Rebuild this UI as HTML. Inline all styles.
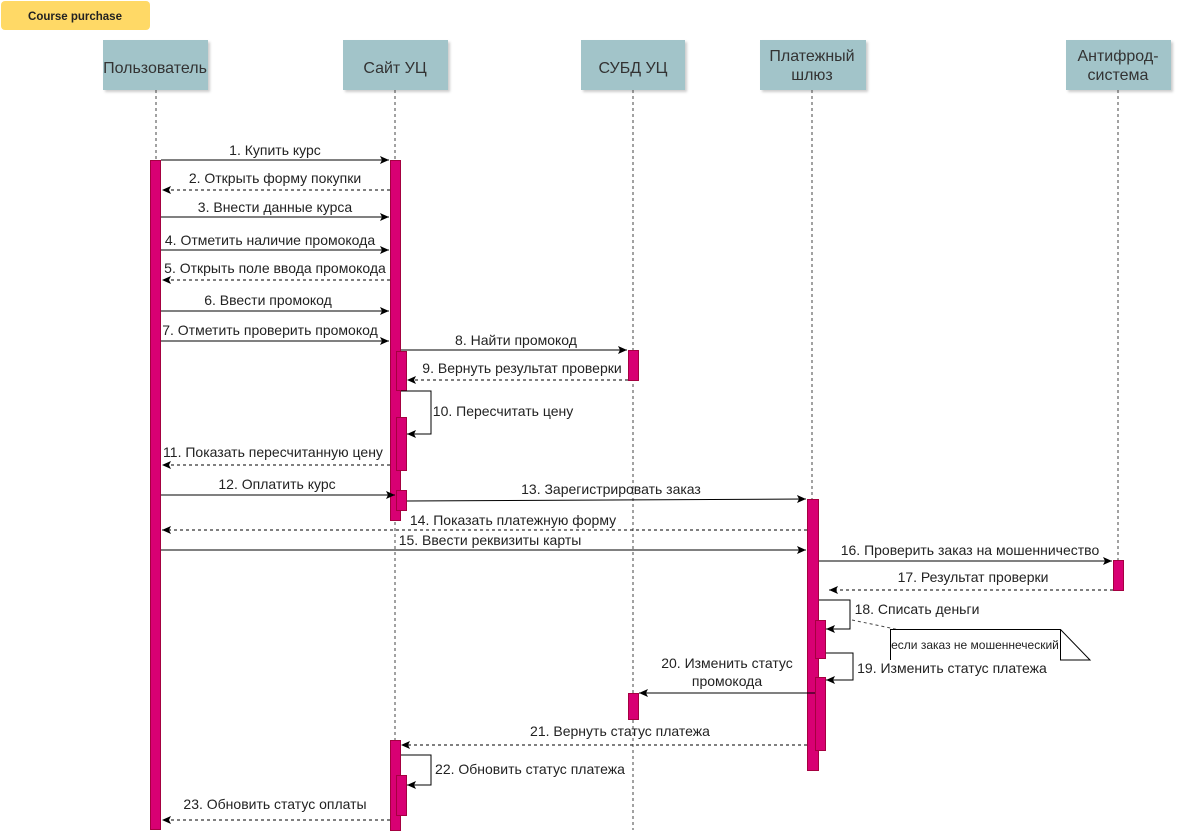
<!DOCTYPE html>
<html><head><meta charset="utf-8"><style>
html,body{margin:0;padding:0;background:#fff;}
svg{display:block;font-family:"Liberation Sans",Arial,sans-serif;}
.l{font-size:14px;fill:#222;}
.h{font-size:16px;fill:#333;}
</style></head><body>
<svg width="1177" height="831" viewBox="0 0 1177 831" xmlns="http://www.w3.org/2000/svg">
<defs>
<marker id="a" markerWidth="10" markerHeight="10" refX="9" refY="5" orient="auto" markerUnits="userSpaceOnUse">
<path d="M0,1 L9,5 L0,9 L2,5 Z" fill="#000"/></marker>
<filter id="s" x="-10%" y="-10%" width="130%" height="130%"><feDropShadow dx="2" dy="2" stdDeviation="1.2" flood-color="#000" flood-opacity="0.2"/></filter>
</defs>
<rect x="1" y="1" width="149" height="29" rx="4" fill="#FFD966"/>
<text x="75" y="20" text-anchor="middle" font-size="11.5" font-weight="bold" fill="#222">Course purchase</text>
<g fill="#A2C4C9" filter="url(#s)">
<rect x="103" y="40" width="105" height="50"/><rect x="343" y="40" width="105" height="50"/>
<rect x="581" y="40" width="104" height="50"/><rect x="760" y="40" width="106" height="50"/>
<rect x="1066" y="40" width="105" height="50"/></g>
<text class="h" x="155" y="73" text-anchor="middle">Пользователь</text>
<text class="h" x="395" y="73" text-anchor="middle">Сайт УЦ</text>
<text class="h" x="633" y="73" text-anchor="middle">СУБД УЦ</text>
<text class="h" x="812" y="61" text-anchor="middle">Платежный</text>
<text class="h" x="812" y="80" text-anchor="middle">шлюз</text>
<text class="h" x="1118" y="61" text-anchor="middle">Антифрод-</text>
<text class="h" x="1118" y="80" text-anchor="middle">система</text>
<g stroke="#444" stroke-dasharray="3,3" stroke-width="1">
<line x1="156" y1="90" x2="156" y2="160"/><line x1="395" y1="90" x2="395" y2="830"/>
<line x1="633" y1="90" x2="633" y2="830"/><line x1="812" y1="90" x2="812" y2="770"/>
<line x1="1118" y1="90" x2="1118" y2="590"/></g>
<g fill="#D80073" stroke="#A50040" stroke-width="1">
<rect x="150.5" y="160.5" width="10" height="669"/>
<rect x="390.5" y="160.5" width="10" height="360"/>
<rect x="396.5" y="351.5" width="10" height="39"/>
<rect x="396.5" y="417.5" width="10" height="53"/>
<rect x="396.5" y="490.5" width="10" height="20"/>
<rect x="390.5" y="740.5" width="10" height="90"/>
<rect x="396.5" y="775.5" width="10" height="40"/>
<rect x="628.5" y="350.5" width="10" height="30"/>
<rect x="628.5" y="693.5" width="10" height="26"/>
<rect x="807.5" y="499.5" width="11" height="271"/>
<rect x="815.5" y="620.5" width="10" height="38"/>
<rect x="815.5" y="677.5" width="10" height="73"/>
<rect x="1113.5" y="560.5" width="10" height="30"/>
</g>
<g stroke="#000" stroke-width="1" fill="none" marker-end="url(#a)">
<line x1="161" y1="160" x2="389" y2="160"/>
<line x1="390" y1="190" x2="162" y2="190" stroke-dasharray="3,3"/>
<line x1="161" y1="217" x2="389" y2="217"/>
<line x1="161" y1="250" x2="389" y2="250"/>
<line x1="390" y1="280" x2="162" y2="280" stroke-dasharray="3,3"/>
<line x1="161" y1="311" x2="389" y2="311"/>
<line x1="161" y1="341" x2="389" y2="341"/>
<line x1="401" y1="350" x2="627" y2="350"/>
<line x1="628" y1="380" x2="407" y2="380" stroke-dasharray="3,3"/>
<polyline points="401,391 431,391 431,434 407,434"/>
<line x1="390" y1="465" x2="162" y2="465" stroke-dasharray="3,3"/>
<line x1="161" y1="495" x2="395" y2="495"/>
<line x1="407" y1="501" x2="806" y2="499"/>
<line x1="807" y1="530" x2="162" y2="530" stroke-dasharray="3,3"/>
<line x1="161" y1="550" x2="806" y2="550"/>
<line x1="819" y1="561" x2="1112" y2="561"/>
<line x1="1113" y1="590" x2="829" y2="590" stroke-dasharray="3,3"/>
<polyline points="819,600 850,600 850,629 826,629"/>
<polyline points="826,653 853,653 853,680 826,680"/>
<line x1="815" y1="693" x2="639" y2="693"/>
<line x1="807" y1="745" x2="401" y2="745" stroke-dasharray="3,3"/>
<polyline points="401,755 431,755 431,785 407,785"/>
<line x1="390" y1="820" x2="162" y2="820" stroke-dasharray="3,3"/>
</g>
<line x1="852" y1="620" x2="900" y2="630" stroke="#444" stroke-dasharray="3,3"/>
<path d="M890.5,660 L890.5,629.5 L1060.5,629.5 L1090,660 L1060.5,660 L1060.5,629.5" fill="#fff" stroke="#000"/>
<text x="975" y="649" text-anchor="middle" font-size="12" fill="#222">если заказ не мошеннеческий</text>
<g class="l" text-anchor="middle">
<text x="275" y="155">1. Купить курс</text>
<text x="275" y="183">2. Открыть форму покупки</text>
<text x="275" y="212">3. Внести данные курса</text>
<text x="270" y="245">4. Отметить наличие промокода</text>
<text x="275" y="273">5. Открыть поле ввода промокода</text>
<text x="268" y="305">6. Ввести промокод</text>
<text x="270" y="335">7. Отметить проверить промокод</text>
<text x="516" y="345">8. Найти промокод</text>
<text x="522" y="373">9. Вернуть результат проверки</text>
<text x="503" y="416">10. Пересчитать цену</text>
<text x="273" y="457">11. Показать пересчитанную цену</text>
<text x="277" y="489">12. Оплатить курс</text>
<text x="611" y="494">13. Зарегистрировать заказ</text>
<text x="513" y="525">14. Показать платежную форму</text>
<text x="490" y="545">15. Ввести реквизиты карты</text>
<text x="970" y="555">16. Проверить заказ на мошенничество</text>
<text x="973" y="582">17. Результат проверки</text>
<text x="917" y="614">18. Списать деньги</text>
<text x="952" y="673">19. Изменить статус платежа</text>
<text x="727" y="668">20. Изменить статус</text>
<text x="727" y="686">промокода</text>
<text x="620" y="736">21. Вернуть статус платежа</text>
<text x="530" y="774">22. Обновить статус платежа</text>
<text x="275" y="809">23. Обновить статус оплаты</text>
</g>
</svg>
</body></html>
